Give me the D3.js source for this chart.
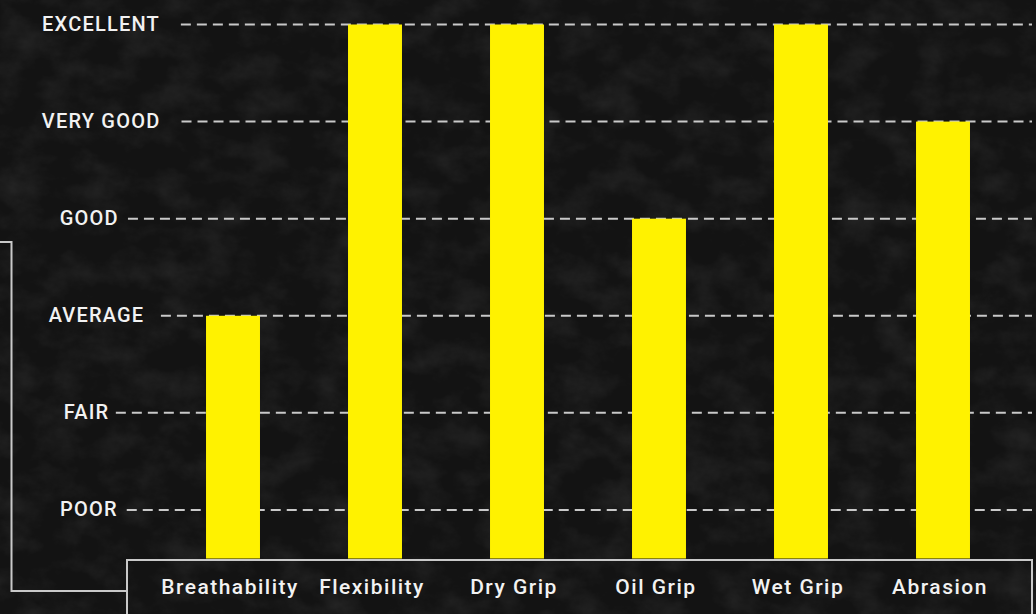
<!DOCTYPE html>
<html>
<head>
<meta charset="utf-8">
<script src="https://cdn.jsdelivr.net/npm/d3@7"></script>
<style>
  html, body { margin: 0; padding: 0; background: #161616; overflow: hidden; }
  svg { display: block; }
</style>
</head>
<body>
<svg id="chart" width="1036" height="614"></svg>
<script>
// ---- data ----
const categories = ["Breathability", "Flexibility", "Dry Grip", "Oil Grip", "Wet Grip", "Abrasion"];
const ratings = [3, 6, 6, 4, 6, 5];
const levelLabels = ["POOR", "FAIR", "AVERAGE", "GOOD", "VERY GOOD", "EXCELLENT"];
const levelValues = [1, 2, 3, 4, 5, 6];

// ---- layout ----
const W = 1036, H = 614;
const svg = d3.select("#chart");
const defs = svg.append("defs");

// textured dark background
const f = defs.append("filter").attr("id", "tex").attr("x", 0).attr("y", 0).attr("width", 1).attr("height", 1);
f.append("feTurbulence").attr("type", "fractalNoise").attr("baseFrequency", "0.025 0.035").attr("numOctaves", 5).attr("seed", 3).attr("result", "n");
f.append("feColorMatrix").attr("in", "n").attr("type", "matrix")
  .attr("values", "0 0 0 0 1  0 0 0 0 1  0 0 0 0 1  1.0 0 0 0 -0.4");
svg.append("rect").attr("width", W).attr("height", H).attr("fill", "#131313");
svg.append("rect").attr("width", W).attr("height", H).attr("fill", "#fff").attr("filter", "url(#tex)").attr("opacity", 0.13);

const x = d3.scaleBand().domain(categories).range([162, 1014]).paddingInner(0.62).paddingOuter(0.31);
const y = d3.scaleLinear().domain([0.5, 6]).range([558.5, 24.5]);

const lineColor = "#c9c9c9";
const fontFamily = "Roboto, 'Noto Sans', sans-serif";

// level labels + dashed grid lines
const levels = svg.append("g");
levelValues.forEach((v, i) => {
  const t = levels.append("text")
    .attr("y", y(v))
    .attr("dy", "0.3em")
    .attr("fill", "#f2f2f2")
    .attr("font-family", fontFamily)
    .attr("font-weight", 500)
    .attr("font-size", 20)
    .attr("letter-spacing", 1.2)
    .text(levelLabels[i]);
  const w = t.node().getComputedTextLength();
  const start = 77.4 - 0.3 * w;
  t.attr("x", start);
  const dashStart = 127 + 0.9 * (w - 58);
  levels.insert("line", "text")
    .attr("x1", dashStart).attr("x2", 1032)
    .attr("y1", y(v)).attr("y2", y(v))
    .attr("stroke", lineColor).attr("stroke-width", 2)
    .attr("stroke-dasharray", "10,6");
});

// bars
svg.append("g").selectAll("rect")
  .data(categories)
  .join("rect")
  .attr("x", d => x(d))
  .attr("width", x.bandwidth())
  .attr("y", (d, i) => y(ratings[i]))
  .attr("height", (d, i) => y(0.5) - y(ratings[i]))
  .attr("fill", "#fff200");

// category axis box
svg.append("rect")
  .attr("x", 127).attr("y", 560)
  .attr("width", 905).attr("height", 80)
  .attr("fill", "none").attr("stroke", lineColor).attr("stroke-width", 2);

// bracket on the left
svg.append("path")
  .attr("d", "M0,242 H11.5 V591 H127")
  .attr("fill", "none").attr("stroke", lineColor).attr("stroke-width", 2);

// category labels
const xAxis = d3.axisBottom(x).tickSize(0).tickPadding(0);
const gx = svg.append("g").attr("transform", "translate(-3,579)").call(xAxis);
gx.select(".domain").remove();
gx.selectAll("text")
  .attr("fill", "#f2f2f2")
  .attr("font-family", fontFamily)
  .attr("font-weight", 500)
  .attr("font-size", 21)
  .attr("letter-spacing", 1.5)
  .attr("dy", "0.71em");
</script>
</body>
</html>
